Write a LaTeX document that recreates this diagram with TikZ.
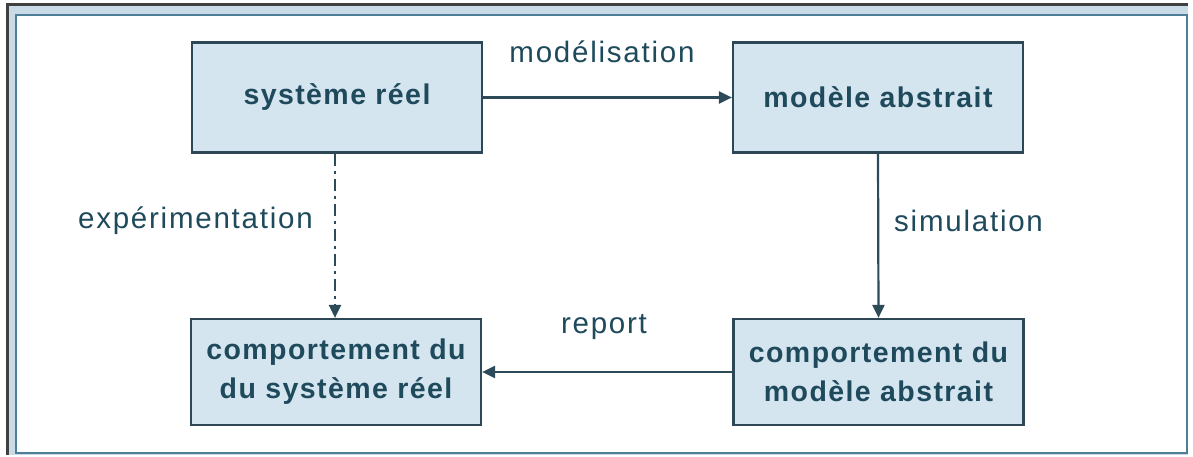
\documentclass[tikz,border=0pt]{standalone}
\usepackage{fontspec}
\setmainfont{Liberation Sans}
\usetikzlibrary{arrows.meta}
\definecolor{boxfill}{HTML}{D4E5F0}
\definecolor{boxline}{HTML}{2E4756}
\definecolor{inktext}{HTML}{1F4A5C}
\definecolor{wireline}{HTML}{2C4A58}
\definecolor{bandfill}{HTML}{C9DBE6}
\definecolor{bandline}{HTML}{4F7F98}
\tikzset{
  stagebox/.style={draw=boxline, line width=2.2pt, fill=boxfill, text=inktext,
    minimum width=290pt, minimum height=110pt, align=center, inner sep=0pt,
    font=\fontsize{28.5}{39}\selectfont\bfseries\addfontfeature{LetterSpace=5}},
  edgelabel/.style={text=inktext, inner sep=0pt,
    font=\fontsize{29.5}{35}\selectfont\addfontfeature{LetterSpace=6}},
  flow/.style={draw=wireline, line width=2.2pt, -{Triangle[length=13pt,width=12pt]}},
}
\begin{document}
\begin{tikzpicture}[x=1pt,y=-1pt]
  \useasboundingbox (0,0) rectangle (1193,457);
  % window frame
  \fill[bandfill] (7,5) rectangle (1188,455);
  \draw[black!75, line width=3pt] (7,455) -- (7,5) -- (1188,5);
  \fill[white] (16,15) rectangle (1187,453);
  \draw[bandline, line width=2pt] (16,453) -- (16,15) -- (1187,15) -- (1187,453) -- cycle;
  % stages
  \node[stagebox] (sys) at (337,97.5) {système réel};
  \node[stagebox] (mod) at (878,97.5) {modèle abstrait};
  \node[stagebox, minimum height=106pt] (csys) at (336,372) {comportement du\\du système réel};
  \node[stagebox, minimum height=106pt] (cmod) at (878.5,372) {comportement du\\modèle abstrait};
  % transitions
  \draw[flow] (sys.east) -- (mod.west);
  \draw[flow, dash pattern=on 12pt off 5pt on 3pt off 5pt] (sys.south -| 335,0) -- (csys.north -| 335,0);
  \draw[flow] (mod.south) -- (cmod.north);
  \draw[flow] (cmod.west) -- (csys.east);
  % labels
  \node[edgelabel] (lmod) at (602,52) {modélisation};
  \node[edgelabel, anchor=east] (lexp) at (313,221) {expérimentation};
  \node[edgelabel, anchor=west] (lsim) at (894,221) {simulation};
  \node[edgelabel] (lrep) at (604,327) {report};
\end{tikzpicture}
\end{document}
